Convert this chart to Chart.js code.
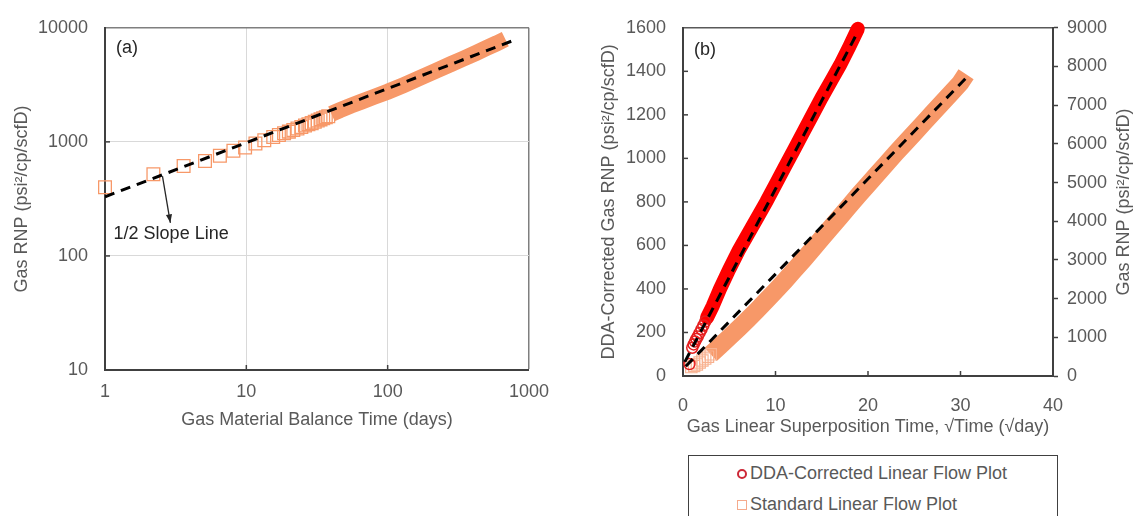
<!DOCTYPE html>
<html>
<head>
<meta charset="utf-8">
<script src="https://cdn.jsdelivr.net/npm/chart.js@4.4.0/dist/chart.umd.min.js"></script>
<style>
  body { margin: 0; background: #fff; width: 1142px; height: 516px; overflow: hidden; position: relative;
         font-family: "Liberation Sans", Arial, sans-serif; }
  #leftBox { position: absolute; left: 0; top: 0; width: 560px; height: 440px; }
  #rightBox { position: absolute; left: 570px; top: 0; width: 572px; height: 450px; }
  #legend { position: absolute; left: 688px; top: 455px; width: 370px; height: 90px;
            border: 1.5px solid #404040; box-sizing: border-box; }
  #legend .row { position: absolute; left: 48px; height: 22px; line-height: 22px; font-size: 18px; color: #595959;
                 white-space: nowrap; }
  #legend .mk { display: inline-block; width: 10px; height: 10px; box-sizing: border-box; margin-right: 3px;
                vertical-align: 0px; }
  #legend .circ { border: 2px solid rgb(205, 40, 55); border-radius: 50%; }
  #legend .sq { border: 1.5px solid rgb(245, 170, 140); }
</style>
</head>
<body>
<div id="leftBox"><canvas id="leftChart" width="560" height="440"></canvas></div>
<div id="rightBox"><canvas id="rightChart" width="572" height="450"></canvas></div>
<div id="legend">
  <div class="row" style="top:6px"><span class="mk circ"></span>DDA-Corrected Linear Flow Plot</div>
  <div class="row" style="top:37px"><span class="mk sq"></span>Standard Linear Flow Plot</div>
</div>
<script>
// ---- (a) log-log plot, gas RNP vs material balance time
const leftTicksX = [1, 10, 100, 1000];
const leftTicksY = [10, 100, 1000, 10000];

const leftSparseT = [1, 2.2, 3.6, 5.1, 6.5, 8.1, 9.8, 11.6, 13.4, 15.5, 17, 18.5, 20, 21.5, 23, 24.5, 26, 27.5, 29, 30.5, 32, 33.5, 35, 36.5, 38];
const leftSparseRnp = [400, 520, 615, 680, 755, 835, 893, 966, 1034, 1104, 1150, 1190, 1230, 1270, 1310, 1350, 1390, 1425, 1460, 1500, 1540, 1575, 1610, 1645, 1680];

const leftBandT = [40, 46, 55, 65, 80, 100, 130, 170, 220, 280, 342, 420, 500, 590, 680];
const leftBandRnp = [1760, 1900, 2080, 2250, 2480, 2750, 3150, 3650, 4200, 4800, 5350, 6000, 6650, 7300, 7950];

const halfSlopeT = [1, 830];
const halfSlopeRnp = [330, 8000];

// arrow + label for the half slope line
const arrowFrom = [2.55, 500];
const arrowTo = [2.9, 195];
const slopeLabelAt = [1.15, 155];

// ---- (b) linear flow plot
const rightTicksX = [0, 10, 20, 30, 40];
const rightTicksY = [0, 200, 400, 600, 800, 1000, 1200, 1400, 1600];
const rightTicksY2 = [0, 1000, 2000, 3000, 4000, 5000, 6000, 7000, 8000, 9000];

const ddaSparseT = [0.7, 1.0, 1.15, 1.3, 1.45, 1.6, 1.8, 2.0, 2.2, 2.4];
const ddaSparseRnp = [55, 130, 145, 158, 170, 182, 198, 215, 232, 250];
const ddaBandT = [2.6, 3.2, 4, 5, 6, 7, 8, 9, 10, 11, 12, 13, 14, 15, 16, 17, 18, 18.9];
const ddaBandRnp = [268, 320, 400, 490, 575, 650, 725, 800, 880, 960, 1040, 1120, 1200, 1280, 1355, 1430, 1515, 1595];
const ddaFitT = [0.2, 18.7];
const ddaFitRnp = [65, 1565];

const stdSparseT = [0.9, 1.2, 1.5, 1.8, 2.1, 2.4, 2.7, 3.0];
const stdSparseRnp = [230, 260, 300, 350, 400, 450, 500, 560];
const stdBandT = [3, 4, 5, 6, 7, 8, 9, 10, 11, 12, 13, 14, 15, 16, 17, 18, 19, 20, 21, 22, 23, 24, 25, 26, 27, 28, 29, 30, 30.6];
const stdBandRnp = [560, 780, 1000, 1230, 1460, 1700, 1950, 2200, 2460, 2730, 3000, 3280, 3560, 3840, 4120, 4400, 4680, 4950, 5220, 5490, 5760, 6020, 6280, 6540, 6800, 7060, 7320, 7580, 7800];
const stdFitT = [0.3, 31];
const stdFitRnp = [250, 7800];

const FONT = '"Liberation Sans", Arial, sans-serif';
const ORANGE = 'rgb(247, 152, 104)';
const RED = 'rgb(255, 0, 0)';

Chart.defaults.font.family = FONT;
Chart.defaults.font.size = 18;
Chart.defaults.color = '#595959';

function pts(xs, ys) {
    return xs.map(function (x, i) { return { x: x, y: ys[i] }; });
}

// small tick marks pointing into the plot
const innerTicks = {
    id: 'innerTicks',
    afterDatasetsDraw(chart, args, opts) {
        const ctx = chart.ctx, area = chart.chartArea;
        ctx.save();
        ctx.strokeStyle = '#404040';
        ctx.lineWidth = 1.5;
        (opts.x || []).forEach(function (v) {
            const px = chart.scales.x.getPixelForValue(v);
            ctx.beginPath(); ctx.moveTo(px, area.bottom); ctx.lineTo(px, area.bottom - 5); ctx.stroke();
        });
        (opts.y || []).forEach(function (v) {
            const py = chart.scales.y.getPixelForValue(v);
            ctx.beginPath(); ctx.moveTo(area.left, py); ctx.lineTo(area.left + 5, py); ctx.stroke();
        });
        ctx.restore();
    }
};

const leftNotes = {
    id: 'leftNotes',
    afterDraw(chart) {
        const ctx = chart.ctx, a = chart.chartArea, sx = chart.scales.x, sy = chart.scales.y;
        ctx.save();
        ctx.font = '18px ' + FONT;
        ctx.fillStyle = '#262626';
        ctx.textBaseline = 'middle';
        ctx.fillText('(a)', a.left + 11, a.top + 20);
        ctx.fillText('1/2 Slope Line', sx.getPixelForValue(slopeLabelAt[0]), sy.getPixelForValue(slopeLabelAt[1]));
        const x0 = sx.getPixelForValue(arrowFrom[0]), y0 = sy.getPixelForValue(arrowFrom[1]);
        const x1 = sx.getPixelForValue(arrowTo[0]), y1 = sy.getPixelForValue(arrowTo[1]);
        ctx.strokeStyle = '#262626';
        ctx.lineWidth = 1.3;
        ctx.beginPath(); ctx.moveTo(x0, y0); ctx.lineTo(x1, y1); ctx.stroke();
        const ang = Math.atan2(y1 - y0, x1 - x0);
        ctx.beginPath();
        ctx.moveTo(x1, y1);
        ctx.lineTo(x1 - 9 * Math.cos(ang - 0.35), y1 - 9 * Math.sin(ang - 0.35));
        ctx.lineTo(x1 - 9 * Math.cos(ang + 0.35), y1 - 9 * Math.sin(ang + 0.35));
        ctx.closePath();
        ctx.fill();
        ctx.restore();
    }
};

const rightNotes = {
    id: 'rightNotes',
    afterDraw(chart) {
        const ctx = chart.ctx, a = chart.chartArea;
        ctx.save();
        ctx.font = '18px ' + FONT;
        ctx.fillStyle = '#262626';
        ctx.textBaseline = 'middle';
        ctx.fillText('(b)', a.left + 11, a.top + 22);
        // right axis title reads bottom to top like the left one
        ctx.fillStyle = '#595959';
        ctx.textAlign = 'center';
        ctx.translate(554, (a.top + a.bottom) / 2);
        ctx.rotate(-Math.PI / 2);
        ctx.fillText('Gas RNP (psi\u00b2/cp/scfD)', 0, 0);
        ctx.restore();
    }
};

new Chart(document.getElementById('leftChart'), {
    type: 'scatter',
    data: {
        datasets: [{
            label: 'half slope',
            data: pts(halfSlopeT, halfSlopeRnp),
            showLine: true,
            borderColor: '#000',
            borderWidth: 3,
            borderDash: [10, 7],
            pointRadius: 0,
            order: 0
        }, {
            label: 'Standard (early)',
            data: pts(leftSparseT, leftSparseRnp),
            pointStyle: 'rect',
            pointRadius: 9,
            borderColor: ORANGE,
            borderWidth: 1.3,
            backgroundColor: 'rgba(255,255,255,0)',
            clip: 12,
            order: 1
        }, {
            label: 'Standard',
            data: pts(leftBandT, leftBandRnp),
            showLine: true,
            borderColor: ORANGE,
            borderWidth: 16,
            pointRadius: 0,
            clip: 12,
            order: 2
        }]
    },
    options: {
        responsive: false,
        animation: false,
        events: [],
        layout: { padding: { top: 24, right: 27, left: 0, bottom: 0 } },
        plugins: {
            legend: { display: false },
            tooltip: { enabled: false },
            innerTicks: { x: [10, 100], y: [100, 1000] }
        },
        scales: {
            x: {
                type: 'logarithmic',
                min: 1,
                max: 1000,
                afterBuildTicks: function (s) { s.ticks = leftTicksX.map(function (v) { return { value: v }; }); },
                afterFit: function (s) { s.height = 70; },
                ticks: { padding: 11, maxRotation: 0, callback: function (v) { return String(v); } },
                grid: {
                    drawTicks: false,
                    color: function (c) { return c.tick.value === 1000 ? '#7f7f7f' : (c.tick.value === 1 ? 'rgba(0,0,0,0)' : '#d9d9d9'); },
                    lineWidth: function (c) { return c.tick.value === 1000 ? 1.5 : 1; }
                },
                border: { color: '#404040', width: 2 },
                title: { display: true, text: 'Gas Material Balance Time (days)', padding: { top: 0, bottom: 9 } }
            },
            y: {
                type: 'logarithmic',
                min: 10,
                max: 10000,
                afterBuildTicks: function (s) { s.ticks = leftTicksY.map(function (v) { return { value: v }; }); },
                afterFit: function (s) { s.width = 105; },
                ticks: { padding: 17, callback: function (v) { return String(v); } },
                grid: {
                    drawTicks: false,
                    color: function (c) { return c.tick.value === 10000 ? '#7f7f7f' : (c.tick.value === 10 ? 'rgba(0,0,0,0)' : '#d9d9d9'); },
                    lineWidth: function (c) { return c.tick.value === 10000 ? 1.5 : 1; }
                },
                border: { color: '#404040', width: 2 },
                title: { display: true, text: 'Gas RNP (psi\u00b2/cp/scfD)', padding: { top: 11, bottom: 0 } }
            }
        }
    },
    plugins: [innerTicks, leftNotes]
});

new Chart(document.getElementById('rightChart'), {
    type: 'scatter',
    data: {
        datasets: [{
            label: 'DDA fit',
            data: pts(ddaFitT, ddaFitRnp),
            yAxisID: 'y',
            showLine: true,
            borderColor: '#000',
            borderWidth: 3,
            borderDash: [10, 7],
            pointRadius: 0,
            order: 0
        }, {
            label: 'Standard fit',
            data: pts(stdFitT, stdFitRnp),
            yAxisID: 'y2',
            showLine: true,
            borderColor: '#000',
            borderWidth: 3,
            borderDash: [10, 7],
            pointRadius: 0,
            order: 0
        }, {
            label: 'DDA-Corrected Linear Flow Plot (early)',
            data: pts(ddaSparseT, ddaSparseRnp),
            yAxisID: 'y',
            pointStyle: 'circle',
            pointRadius: 5.5,
            borderColor: 'rgb(230, 30, 30)',
            borderWidth: 1.5,
            backgroundColor: 'rgba(255,255,255,0)',
            clip: 10,
            order: 1
        }, {
            label: 'Standard Linear Flow Plot (early)',
            data: pts(stdSparseT, stdSparseRnp),
            yAxisID: 'y2',
            pointStyle: 'rect',
            pointRadius: 8,
            borderColor: 'rgb(248, 178, 145)',
            borderWidth: 1.2,
            backgroundColor: 'rgba(255,255,255,0)',
            clip: 10,
            order: 1
        }, {
            label: 'DDA-Corrected Linear Flow Plot',
            data: pts(ddaBandT, ddaBandRnp),
            yAxisID: 'y',
            showLine: true,
            borderColor: RED,
            borderWidth: 14,
            borderCapStyle: 'round',
            pointRadius: 0,
            clip: 10,
            order: 2
        }, {
            label: 'Standard Linear Flow Plot',
            data: pts(stdBandT, stdBandRnp),
            yAxisID: 'y2',
            showLine: true,
            borderColor: ORANGE,
            borderWidth: 18,
            pointRadius: 0,
            order: 3
        }]
    },
    options: {
        responsive: false,
        animation: false,
        events: [],
        layout: { padding: { top: 26, right: 0, left: 0, bottom: 0 } },
        plugins: {
            legend: { display: false },
            tooltip: { enabled: false },
            innerTicks: { x: [10, 20, 30], y: [200, 400, 600, 800, 1000, 1200, 1400] }
        },
        scales: {
            x: {
                type: 'linear',
                min: 0,
                max: 40,
                afterBuildTicks: function (s) { s.ticks = rightTicksX.map(function (v) { return { value: v }; }); },
                afterFit: function (s) { s.height = 74; },
                ticks: { padding: 11, maxRotation: 0, callback: function (v) { return String(v); } },
                grid: { display: false },
                border: { color: '#404040', width: 2 },
                title: { display: true, text: 'Gas Linear Superposition Time, \u221aTime (\u221aday)', padding: { top: 0, bottom: 12 } }
            },
            y: {
                type: 'linear',
                position: 'left',
                min: 0,
                max: 1600,
                afterBuildTicks: function (s) { s.ticks = rightTicksY.map(function (v) { return { value: v }; }); },
                afterFit: function (s) { s.width = 113; },
                ticks: { padding: 17, callback: function (v) { return String(v); } },
                grid: {
                    drawTicks: false,
                    color: function (c) { return c.tick.value === 1600 ? '#595959' : 'rgba(0,0,0,0)'; },
                    lineWidth: 1.5
                },
                border: { color: '#404040', width: 2 },
                title: { display: true, text: 'DDA-Corrected Gas RNP (psi\u00b2/cp/scfD)', padding: { top: 28, bottom: 0 } }
            },
            y2: {
                type: 'linear',
                position: 'right',
                min: 0,
                max: 9000,
                afterBuildTicks: function (s) { s.ticks = rightTicksY2.map(function (v) { return { value: v }; }); },
                afterFit: function (s) { s.width = 89; },
                ticks: { padding: 9, callback: function (v) { return String(v); } },
                grid: { drawOnChartArea: false, drawTicks: true, tickLength: 5, tickColor: '#404040', tickWidth: 1.5 },
                border: { color: '#404040', width: 2 },
                title: { display: false }
            }
        }
    },
    plugins: [innerTicks, rightNotes]
});
</script>
</body>
</html>
